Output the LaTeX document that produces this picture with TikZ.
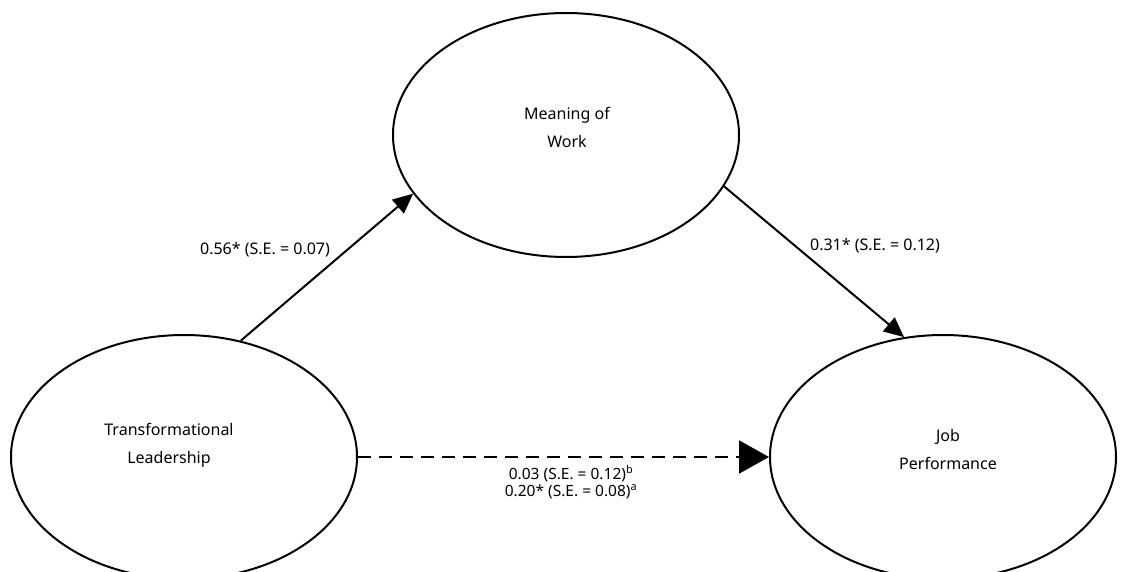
\documentclass[tikz,border=0pt]{standalone}
\usepackage{fontspec}
\setmainfont{Noto Sans}
\usetikzlibrary{shapes.geometric,arrows.meta}

\tikzset{
	latent/.style={ellipse, draw, line width=2pt, minimum width=346pt, minimum height=244pt, inner sep=0pt},
	varname/.style={align=center, font=\fontsize{16}{28}\selectfont},
	coef/.style={align=center, font=\fontsize{16}{17}\selectfont, inner sep=0pt},
	effect/.style={line width=2pt, -{Triangle[length=20pt,width=18pt]}}
}

\begin{document}
\begin{tikzpicture}[x=1pt,y=-1pt]

	\useasboundingbox (0,0) rectangle (1122,572);
	\clip (0,0) rectangle (1122,572);

	\node[latent] (mw) at (566,135) {};
	\node[latent] (tl) at (184,457) {};
	\node[latent] (jp) at (943,457) {};

	\node[varname] (mwname) at (567,127) {Meaning of\\Work};
	\node[varname] (tlname) at (169,445) {Transformational\\Leadership};
	\node[varname] (jpname) at (948,449) {Job\\Performance};

	\draw[effect] (tl.64) -- (mw.201);
	\draw[effect] (mw.-18) -- (jp.108);
	\draw[line width=2pt, dash pattern=on 13pt off 8pt, -{Triangle[length=30pt,width=33pt]}] (tl.east) -- (jp.west);

	\node[coef] (tlmw) at (265,250) {0.56\textbf{*} (S.E. = 0.07)};
	\node[coef] (mwjp) at (875,246) {0.31\textbf{*} (S.E. = 0.12)};
	\node[coef, font=\fontsize{15.5}{17}\selectfont] (tljp) at (571,482) {0.03 (S.E. = 0.12)\textsuperscript{\textbf{b}}\\0.20\textbf{*} (S.E. = 0.08)\textsuperscript{\textbf{a}}};

\end{tikzpicture}
\end{document}
